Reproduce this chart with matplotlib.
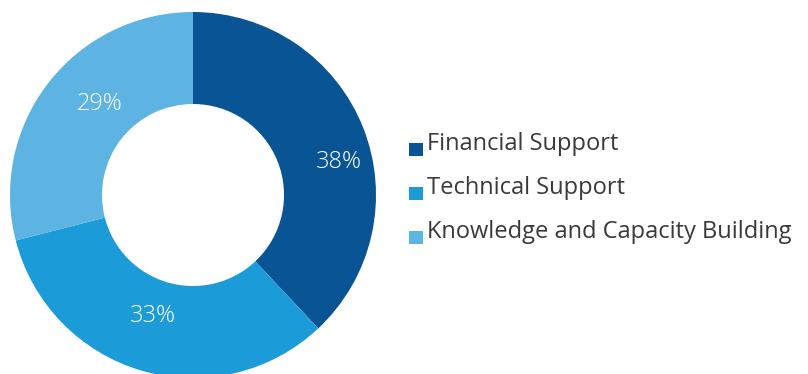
import matplotlib.pyplot as plt
from matplotlib.patches import Rectangle

categories = ["Financial Support", "Technical Support", "Knowledge and Capacity Building"]
shares = [38, 33, 29]
colors = ["#085494", "#1b9bd7", "#5db4e3"]

# pixel positions of the percentage labels (y measured from top)
label_xy = [(339, 162), (153, 316), (100, 104)]

W, H = 808, 374
fig = plt.figure(figsize=(W / 100, H / 100), dpi=100)
ax = fig.add_axes([0, 0, 1, 1])

cx, cy = 193, H - 195
wedges, _ = ax.pie(shares, colors=colors, startangle=90, counterclock=False,
                   center=(cx, cy), radius=183, frame=True,
                   wedgeprops=dict(width=92, linewidth=0))

for (x, y), v in zip(label_xy, shares):
    ax.text(x, H - y, f"{v}%", color="white", fontsize=17, family="Open Sans",
            fontweight="light", ha="center", va="center")

# legend
lx, ly0, dy = 409, 150, 44
for i, (name, c) in enumerate(zip(categories, colors)):
    by = H - (ly0 + i * dy)
    ax.add_patch(Rectangle((lx, by - 6), 14, 13, color=c, lw=0))
    ax.text(lx + 18, by, name, color="#3a3a3a", fontsize=17, family="Open Sans",
            ha="left", va="baseline")

ax.set_xlim(0, W)
ax.set_ylim(0, H)
ax.axis("off")
fig.savefig("out.png", dpi=100)
